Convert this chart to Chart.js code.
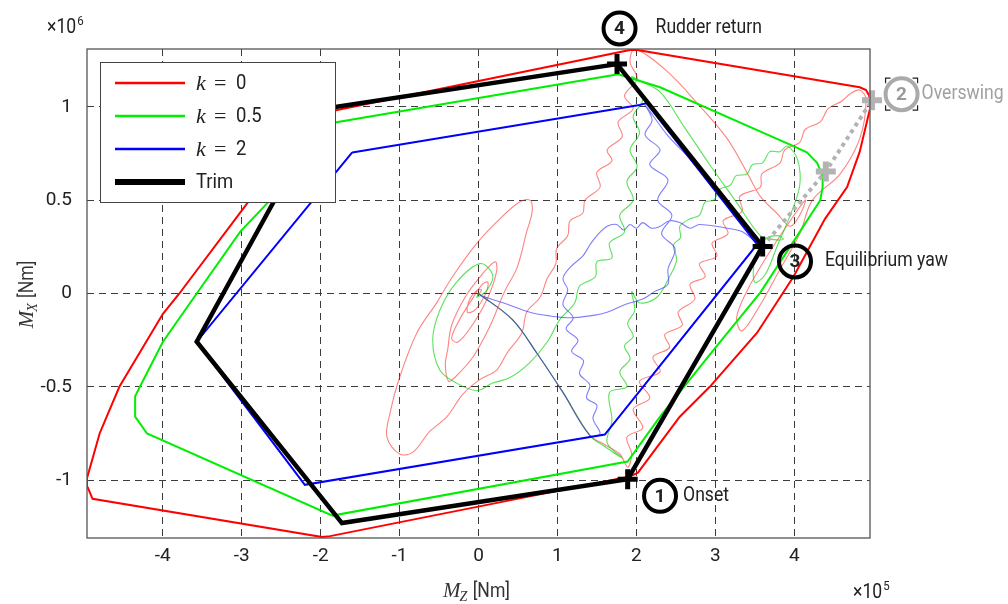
<!DOCTYPE html>
<html lang="en">
<head>
<meta charset="UTF-8">
<title>Yaw moment envelopes</title>
<script src="https://cdn.jsdelivr.net/npm/chart.js"></script>
<style>
  html, body { margin: 0; padding: 0; background: #fff; }
  canvas { display: block; }
</style>
</head>
<body>
<canvas id="myChart" width="1008" height="604"></canvas>
<script>
// x axis: M_Z in units of 1e5 Nm, y axis: M_X in units of 1e6 Nm
const xTicks = [-4, -3, -2, -1, 0, 1, 2, 3, 4];
const yTicks = [-1, -0.5, 0, 0.5, 1];
const kValues = ['0', '0.5', '2'];

// envelopes (thick lines)
const redEnvX = [1.92, 2.01, 4.83, 4.91, 4.95, 4.96, 4.83, 4.67, 4.39, 3.99, 3.53, 2.93, 2.55, 2.02, 1.92, -1.88, -1.98, -4.89, -4.95, -4.96, -4.80, -4.71, -4.55, -4.00, -3.79, -2.90, -2.20, -1.82, 1.92];
const redEnvY = [1.305, 1.305, 1.105, 1.09, 1.06, 0.99, 0.76, 0.57, 0.40, 0.09, -0.21, -0.50, -0.66, -0.96, -0.98, -1.30, -1.305, -1.10, -1.04, -0.99, -0.75, -0.66, -0.50, -0.11, 0, 0.50, 0.93, 0.98, 1.305];

const greenEnvX = [1.77, 2.30, 3.99, 4.16, 4.29, 4.36, 4.36, 4.33, 4.07, 3.57, 3.02, 2.30, 1.89, -1.85, -4.20, -4.35, -4.35, -4.29, -4.00, -3.57, -3.02, -2.64, -1.91, 1.77];
const greenEnvY = [1.175, 1.105, 0.79, 0.756, 0.70, 0.63, 0.57, 0.50, 0.33, 0.005, -0.28, -0.66, -0.90, -1.19, -0.75, -0.66, -0.55, -0.50, -0.26, 0, 0.33, 0.50, 0.91, 1.175];

const blueEnvX = [-1.60, 2.04, 2.13, 3.53, 1.60, -2.20, -3.57, -1.60];
const blueEnvY = [0.756, 1.01, 1.02, 0.263, -0.756, -1.025, -0.258, 0.756];

const trimX = [1.755, 3.60, 1.89, -1.73, -3.57, -1.945, 1.755];
const trimY = [1.229, 0.252, -0.995, -1.23, -0.258, 0.991, 1.229];

// event points on the trim line (1 onset, 3 equilibrium, 4 rudder return)
const markX = [1.755, 3.60, 1.89];
const markY = [1.229, 0.252, -0.995];

// overswing path (grey)
const swingX = [3.60, 4.40, 4.985];
const swingY = [0.252, 0.654, 1.035];

// simulated trajectories (thin lines)
const redRunX = [0, 0.43, 0.74, 1.07, 1.41, 1.60, 1.79, 1.89, 1.94, 1.88, 2.08, 1.96, 2.17, 2.04, 2.30, 2.21, 2.42, 2.36, 2.58, 2.53, 2.74, 2.68, 2.87, 2.80, 3.02, 2.96, 3.16, 3.10, 3.34, 3.31, 3.57, 3.59, 3.82, 3.88, 4.07, 4.14, 4.33, 4.43, 4.60, 4.71, 4.83,
  4.91, 4.83, 4.58, 4.23, 4.07, 3.82, 3.57, 3.34, 3.27, 3.41, 3.67, 3.95, 4.14, 4.07, 3.95,
  3.78, 3.57, 3.40, 3.15, 2.77, 2.39, 1.98,
  1.92, 2.01, 1.85, 1.96, 1.77, 1.82, 1.63, 1.69, 1.50, 1.54, 1.35, 1.32, 1.16, 1.13, 0.99, 0.98, 0.87, 0.78, 0.61, 0.55, 0.36, 0.23, 0.02, -0.20, -0.40, -0.62, -0.83, -1.00, -1.16,
  -1.12, -1.00, -0.78, -0.53, -0.33, -0.02, 0.27, 0.52, 0.65, 0.68, 0.61, 0.49, 0.33, 0.14, -0.07, -0.30, -0.38, -0.42, -0.39,
  -0.34, -0.17, 0.04, 0.21, 0.23, 0.12, -0.08, -0.26, -0.34, -0.24, -0.08, 0.05, 0.12, 0.08, -0.05, -0.14, -0.11, -0.01, 0.04, -0.01, 0];
const redRunY = [0, -0.14, -0.32, -0.53, -0.76, -0.81, -0.86, -0.93, -0.86, -0.77, -0.72, -0.62, -0.56, -0.47, -0.42, -0.34, -0.29, -0.22, -0.17, -0.10, -0.03, 0.05, 0.09, 0.16, 0.20, 0.27, 0.32, 0.39, 0.44, 0.52, 0.57, 0.64, 0.70, 0.77, 0.81, 0.88, 0.92, 0.99, 1.03, 1.07, 1.09,
  1.04, 0.83, 0.64, 0.50, 0.32, 0.13, -0.06, -0.20, -0.13, 0.02, 0.21, 0.39, 0.50, 0.42, 0.36,
  0.43, 0.52, 0.65, 0.83, 1.02, 1.19, 1.31,
  1.24, 1.15, 1.06, 0.99, 0.92, 0.84, 0.77, 0.71, 0.65, 0.57, 0.50, 0.43, 0.39, 0.31, 0.24, 0.16, 0.08, -0.02, -0.10, -0.21, -0.32, -0.41, -0.46, -0.54, -0.66, -0.74, -0.85, -0.86, -0.77,
  -0.64, -0.45, -0.21, -0.05, 0.09, 0.27, 0.40, 0.49, 0.50, 0.44, 0.33, 0.14, 0.01, -0.18, -0.34, -0.45, -0.47, -0.38, -0.30,
  -0.17, -0.02, 0.10, 0.17, 0.12, -0.02, -0.17, -0.26, -0.24, -0.14, -0.03, 0.05, 0.06, -0.01, -0.09, -0.10, -0.03, 0.02, 0.02, -0.01, 0];

const greenRunX = [0, 0.43, 0.74, 1.07, 1.41, 1.60, 1.82,
  1.63, 1.69, 1.66, 1.88, 1.79, 1.92, 1.85, 1.96, 1.89, 1.98, 1.94, 2.04, 2.26, 2.42, 2.51,
  2.47, 2.56, 2.55, 2.68, 2.80, 2.87, 2.98, 3.06, 3.19, 3.26, 3.40, 3.47, 3.60, 3.69, 3.82, 3.91,
  4.04, 4.07, 3.95, 3.79, 3.63, 3.50, 3.50, 3.63, 3.79, 3.86, 3.72,
  3.57, 3.25, 2.93, 2.61, 2.30, 2.04, 1.94,
  2.08, 1.96, 2.04, 1.92, 2.01, 1.88, 1.96, 1.79, 1.85, 1.66, 1.69, 1.50, 1.48, 1.28, 1.22, 1.03, 0.87, 0.65, 0.40, 0.18, -0.02, -0.28, -0.49, -0.58, -0.49, -0.28, 0.02, 0.18, 0.11, -0.02, 0];
const greenRunY = [0, -0.14, -0.32, -0.53, -0.76, -0.82, -0.88,
  -0.80, -0.68, -0.53, -0.50, -0.42, -0.35, -0.28, -0.23, -0.16, -0.09, 0.01, -0.05, -0.02, 0.09, 0.18,
  0.26, 0.30, 0.36, 0.40, 0.42, 0.49, 0.50, 0.56, 0.58, 0.63, 0.64, 0.69, 0.70, 0.76, 0.76, 0.79,
  0.72, 0.58, 0.42, 0.26, 0.10, 0.06, 0.18, 0.29, 0.31, 0.29, 0.29,
  0.31, 0.50, 0.69, 0.89, 1.08, 1.14, 1.16,
  1.04, 0.95, 0.86, 0.77, 0.68, 0.60, 0.50, 0.42, 0.33, 0.27, 0.19, 0.17, 0.09, 0.04, -0.05, -0.14, -0.26, -0.37, -0.45, -0.48, -0.52, -0.48, -0.41, -0.25, -0.09, 0.06, 0.16, 0.10, 0.02, -0.02, 0];

const blueRunX = [0, 0.43, 0.74, 1.07, 1.41, 1.54, 1.45, 1.50, 1.37, 1.41, 1.28, 1.33, 1.18, 1.26, 1.11, 1.20, 1.07, 1.13, 1.07, 1.16, 1.32, 1.41, 1.50, 1.63, 1.75, 1.84, 1.92, 2.00, 2.08, 2.19, 2.30, 2.42, 2.55, 2.68, 2.80, 3.15, 3.35, 3.53,
  3.25, 2.96, 2.68, 2.39, 2.11,
  2.20, 2.11, 2.30, 2.17, 2.40, 2.27, 2.45, 2.32, 2.49, 2.40, 2.40, 2.23, 2.08, 1.85, 1.63, 1.41, 1.16, 0.90, 0.65, 0.31, 0.02];
const blueRunY = [0, -0.14, -0.32, -0.53, -0.76, -0.75, -0.67, -0.60, -0.56, -0.49, -0.43, -0.36, -0.31, -0.25, -0.19, -0.13, -0.06, 0.02, 0.08, 0.14, 0.20, 0.26, 0.31, 0.36, 0.37, 0.34, 0.37, 0.35, 0.38, 0.35, 0.36, 0.39, 0.38, 0.35, 0.37, 0.35, 0.33, 0.27,
  0.42, 0.57, 0.72, 0.85, 1.01,
  0.93, 0.85, 0.77, 0.69, 0.61, 0.50, 0.42, 0.32, 0.24, 0.13, 0.05, 0.01, -0.03, -0.06, -0.10, -0.12, -0.13, -0.12, -0.10, -0.05, -0.01];

const SANS = "Roboto, 'Liberation Sans', sans-serif";
const SERIF = "'Liberation Serif', 'DejaVu Serif', serif";
const NARROW = 0.88; // the original uses a condensed face

const pts = (xs, ys) => xs.map((x, i) => ({ x: x, y: ys[i] }));

function line(label, xs, ys, color, width, order, extra) {
  return Object.assign({
    label: label,
    data: pts(xs, ys),
    showLine: true,
    borderColor: color,
    backgroundColor: color,
    borderWidth: width,
    pointRadius: 0,
    pointHoverRadius: 0,
    fill: false,
    order: order
  }, extra || {});
}

// circled event labels, anchored to data coordinates
const notes = [
  { num: '4', text: 'Rudder return', x: 1.787, y: 1.42, dx: 36, color: '#000', textColor: '#222' },
  { num: '2', text: 'Overswing', x: 5.36, y: 1.068, dx: 20, color: '#aaa', textColor: '#a0a0a0', bracket: true },
  { num: '3', text: 'Equilibrium yaw', x: 4.01, y: 0.172, dx: 30, color: '#000', textColor: '#222' },
  { num: '1', text: 'Onset', x: 2.30, y: -1.084, dx: 23, color: '#000', textColor: '#222' }
];

// draw text squeezed horizontally, returns drawn width
function narrowText(ctx, text, x, y) {
  ctx.save();
  ctx.translate(x, y);
  ctx.scale(NARROW, 1);
  ctx.fillText(text, 0, 0);
  const w = ctx.measureText(text).width * NARROW;
  ctx.restore();
  return w;
}

function drawMath(ctx, cx, base, sym, sub, rest) {
  const f1 = 'italic 21px ' + SERIF, f2 = 'italic 14px ' + SERIF, f3 = '20px ' + SANS;
  ctx.font = f1; const w1 = ctx.measureText(sym).width;
  ctx.font = f2; const w2 = ctx.measureText(sub).width;
  ctx.font = f3; const w3 = ctx.measureText(rest).width * NARROW;
  let x = cx - (w1 + w2 + w3) / 2;
  ctx.textAlign = 'left';
  ctx.textBaseline = 'alphabetic';
  ctx.font = f1; ctx.fillText(sym, x, base); x += w1;
  ctx.font = f2; ctx.fillText(sub, x - 1, base + 4); x += w2;
  ctx.font = f3; narrowText(ctx, rest, x, base);
}

function drawExp(ctx, x, base, exp) {
  ctx.textAlign = 'left';
  ctx.textBaseline = 'alphabetic';
  ctx.font = '20px ' + SANS;
  const w = narrowText(ctx, '\u00d710', x, base);
  ctx.font = '13px ' + SANS;
  narrowText(ctx, exp, x + w + 1, base - 8);
}

const overlay = {
  id: 'overlay',
  afterDraw(chart) {
    const ctx = chart.ctx, a = chart.chartArea;
    const sx = chart.scales.x, sy = chart.scales.y;
    ctx.save();

    // plot frame
    ctx.strokeStyle = '#555';
    ctx.lineWidth = 1.3;
    ctx.strokeRect(a.left, a.top, a.right - a.left, a.bottom - a.top);

    // legend box
    const lx = a.left + 13, ly = a.top + 13;
    ctx.fillStyle = '#fff';
    ctx.fillRect(lx, ly, 235, 140);
    ctx.strokeStyle = '#444';
    ctx.lineWidth = 1;
    ctx.strokeRect(lx + 0.5, ly + 0.5, 235, 140);
    const rows = [0, 1, 2, 3].map(i => chart.data.datasets[i]);
    rows.forEach((ds, i) => {
      const yy = ly + 21 + i * 33;
      ctx.strokeStyle = ds.borderColor;
      ctx.lineWidth = i === 3 ? 6 : 2.5;
      ctx.beginPath();
      ctx.moveTo(lx + 15, yy);
      ctx.lineTo(lx + 85, yy);
      ctx.stroke();
      ctx.fillStyle = '#222';
      ctx.textAlign = 'left';
      ctx.textBaseline = 'middle';
      if (i < 3) {
        ctx.font = 'italic 22px ' + SERIF;
        ctx.fillText('k', lx + 96, yy + 1);
        ctx.font = '22px ' + SERIF;
        ctx.fillText('=', lx + 114, yy + 1);
        ctx.font = '21px ' + SANS;
        narrowText(ctx, kValues[i], lx + 136, yy + 1);
      } else {
        ctx.font = '21px ' + SANS;
        narrowText(ctx, 'Trim', lx + 96, yy + 1);
      }
    });

    // circled event numbers
    notes.forEach(n => {
      const cx = sx.getPixelForValue(n.x), cy = sy.getPixelForValue(n.y);
      ctx.strokeStyle = n.color;
      ctx.lineWidth = 4;
      ctx.beginPath();
      ctx.arc(cx, cy, 16, 0, Math.PI * 2);
      ctx.stroke();
      ctx.fillStyle = n.num === '2' ? '#999' : '#222';
      ctx.font = 'bold 19px ' + SANS;
      ctx.textAlign = 'center';
      ctx.textBaseline = 'middle';
      ctx.fillText(n.num, cx, cy + 1);
      ctx.fillStyle = n.textColor;
      ctx.font = '20px ' + SANS;
      ctx.textAlign = 'left';
      narrowText(ctx, n.text, cx + n.dx, cy);
      if (n.bracket) {
        ctx.strokeStyle = '#222';
        ctx.lineWidth = 1.2;
        const h = 16, t = 5;
        [[-1, -1], [1, -1], [-1, 1], [1, 1]].forEach(([ix, iy]) => {
          const px = cx + ix * h, py = cy + iy * h;
          ctx.beginPath();
          ctx.moveTo(px - ix * t, py);
          ctx.lineTo(px, py);
          ctx.lineTo(px, py - iy * t);
          ctx.stroke();
        });
      }
    });

    // axis titles and multipliers
    ctx.fillStyle = '#333';
    drawMath(ctx, (a.left + a.right) / 2 - 2, 597, 'M', 'Z', ' [Nm]');
    ctx.save();
    ctx.translate(33, (a.top + a.bottom) / 2 + 1);
    ctx.rotate(-Math.PI / 2);
    drawMath(ctx, 0, 0, 'M', 'X', ' [Nm]');
    ctx.restore();
    ctx.fillStyle = '#222';
    drawExp(ctx, 47, 33, '6');
    drawExp(ctx, 853, 598, '5');

    ctx.restore();
  }
};

const runStyle = { tension: 0.35 };

const ctx = document.getElementById('myChart').getContext('2d');
new Chart(ctx, {
  type: 'scatter',
  data: {
    datasets: [
      line('k = 0', redEnvX, redEnvY, '#ff0000', 2, 4),
      line('k = 0.5', greenEnvX, greenEnvY, '#00ee00', 2, 3),
      line('k = 2', blueEnvX, blueEnvY, '#0000ff', 2, 2),
      line('Trim', trimX, trimY, '#000000', 4.5, 1),
      line('k = 2 run', blueRunX, blueRunY, 'rgba(40,40,255,0.6)', 1.1, 5, runStyle),
      line('k = 0.5 run', greenRunX, greenRunY, 'rgba(0,210,0,0.65)', 1.1, 6, runStyle),
      line('k = 0 run', redRunX, redRunY, 'rgba(255,30,30,0.55)', 1.1, 7, runStyle),
      line('Overswing', swingX, swingY, '#b3b3b3', 4, 0, { borderDash: [4, 4], clip: false }),
      {
        label: 'Overswing points',
        data: pts(swingX.slice(1), swingY.slice(1)),
        showLine: false,
        pointStyle: 'cross',
        pointRadius: 10,
        borderWidth: 6,
        borderColor: '#b3b3b3',
        order: -1,
        clip: false
      },
      {
        label: 'Events',
        data: pts(markX, markY),
        showLine: false,
        pointStyle: 'cross',
        pointRadius: 10,
        borderWidth: 5,
        borderColor: '#000',
        order: -2
      }
    ]
  },
  options: {
    responsive: false,
    animation: false,
    devicePixelRatio: 1,
    events: [],
    layout: { padding: { top: 49, right: 138, left: 0, bottom: 0 } },
    plugins: { legend: { display: false }, tooltip: { enabled: false } },
    scales: {
      x: {
        type: 'linear',
        min: -4.96,
        max: 4.96,
        afterBuildTicks: s => { s.ticks = xTicks.map(v => ({ value: v })); },
        afterFit: s => { s.height = 66; },
        grid: { color: '#3c3c3c', lineWidth: 1, drawTicks: false },
        border: { display: false, dash: [7, 5] },
        ticks: { font: { family: SANS, size: 19 }, color: '#222', padding: 7, autoSkip: false, maxRotation: 0, callback: v => String(v) }
      },
      y: {
        type: 'linear',
        min: -1.31,
        max: 1.31,
        afterBuildTicks: s => { s.ticks = yTicks.map(v => ({ value: v })); },
        afterFit: s => { s.width = 87; },
        grid: { color: '#3c3c3c', lineWidth: 1, drawTicks: false },
        border: { display: false, dash: [7, 5] },
        ticks: { font: { family: SANS, size: 19 }, color: '#222', padding: 15, autoSkip: false, callback: v => String(v) }
      }
    }
  },
  plugins: [overlay]
});
</script>
</body>
</html>
